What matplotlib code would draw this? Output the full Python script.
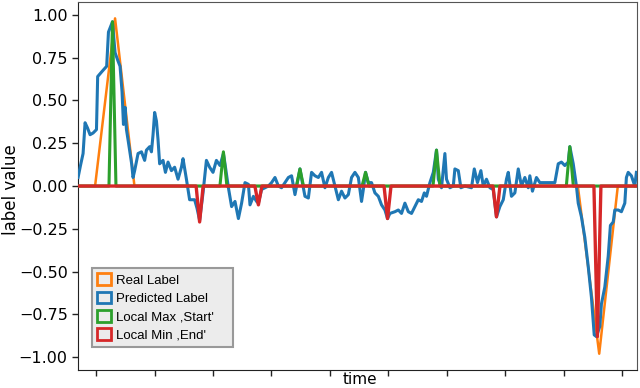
import numpy as np
import matplotlib
matplotlib.use("Agg")
import matplotlib.pyplot as plt
from matplotlib.patches import Patch

# predicted label, time in arbitrary steps
pred_t = [0, 1.2, 2.5, 3.5, 4.7, 6, 7.5, 9.2, 9.8, 12, 14.3, 15.2, 17.2, 18.5, 20, 21, 22, 22.7,
          23.5, 24.2, 25, 26, 26.8, 27.5, 28.3, 30, 31.7, 33.3, 34.2, 35.8, 36.7, 37.5, 38.3, 39.2,
          40, 40.8, 42.5, 43.7, 45, 46.7, 48.3, 50, 51.7, 52.5, 54.2, 55.8, 58.3, 59.5, 60.8, 62.5,
          64.2, 65.8, 67.5, 69.2, 71, 72.7, 73.5, 75.2, 76.8, 78.5, 80.2, 81.8, 83.5, 85.2, 86,
          87.7, 89.3, 90.2, 91.8, 93.5, 95.2, 96.8, 98.5, 100.2, 101.8, 103.5, 105.2, 106.8, 108.5,
          111, 112.2, 113.5, 115.2, 116.8, 118.5, 120.2, 121.8, 123.5, 125.2, 126.8, 128.5, 130.2,
          131.8, 133.5, 135.2, 136.8, 138.5, 140.2, 141.8, 142.7, 143.8, 145.2, 146.8, 148.5,
          150.2, 151.8, 153.5, 154.8, 156, 158.5, 160.2, 161.8, 163.5, 165.2, 166.8, 168.5, 170.2,
          171.8, 173.2, 174.3, 176, 177.7, 179.3, 180.2, 181.8, 183.5, 184.3, 186, 187.7, 188.5,
          190.2, 191.5, 193.5, 196.8, 198.2, 199.8, 201.5, 202.7, 204.3, 206, 207.7, 209.3, 211,
          212.7, 214.3, 215.2, 216.8, 218.5, 220.2, 221.8, 223.5, 225.2, 226, 227.3, 229.3, 231,
          238.5, 240.2, 241.8, 243.5, 245.2, 246, 247.7, 249.3, 250.2, 251.8, 253.5, 255.2, 256.8,
          258.2, 259.3, 261, 261.8, 263.5, 265.2, 266.3, 267.7, 268.5, 270.2, 271.8, 273.5, 274.3,
          275.2, 276.8, 278.5, 279.3]
pred_v = [0.05, 0.12, 0.19, 0.37, 0.34, 0.30, 0.31, 0.33, 0.64, 0.67, 0.70, 0.90, 0.96, 0.78, 0.73,
          0.70, 0.55, 0.36, 0.46, 0.33, 0.27, 0.19, 0.13, 0.05, 0.09, 0.19, 0.20, 0.15, 0.21, 0.23,
          0.20, 0.30, 0.43, 0.38, 0.27, 0.13, 0.15, 0.08, 0.14, 0.09, 0.11, 0.04, 0.11, 0.16, 0.04,
          -0.08, -0.08, -0.13, -0.20, -0.04, 0.15, 0.11, 0.08, 0.15, 0.12, 0.19, 0.13, -0.01, -0.12,
          -0.09, -0.19, -0.10, 0.02, 0.01, -0.11, -0.06, -0.09, -0.10, -0.02, -0.01, 0.0, 0.02, 0.05,
          0.0, -0.01, 0.02, 0.05, 0.06, -0.05, 0.10, 0.02, -0.06, -0.07, 0.08, 0.06, 0.05, 0.08,
          -0.01, 0.05, 0.08, 0.0, -0.08, -0.03, -0.07, -0.05, 0.05, 0.08, 0.05, -0.09, -0.02, 0.08,
          0.02, 0.02, -0.04, -0.06, -0.11, -0.14, -0.19, -0.16, -0.15, -0.14, -0.16, -0.10, -0.15,
          -0.16, -0.12, -0.08, -0.09, -0.04, -0.06, 0.02, 0.08, 0.21, 0.04, -0.01, 0.19, 0.04, -0.01,
          0.0, 0.10, 0.09, -0.01, 0.0, -0.01, 0.10, 0.02, 0.09, 0.0, 0.04, -0.01, -0.02, -0.18,
          -0.12, -0.08, 0.04, 0.08, -0.06, -0.04, 0.10, 0.0, 0.05, -0.01, 0.06, -0.03, 0.05, 0.02,
          0.02, 0.13, 0.14, 0.12, 0.14, 0.23, 0.13, 0.0, -0.10, -0.18, -0.30, -0.47, -0.65, -0.87,
          -0.88, -0.82, -0.69, -0.59, -0.41, -0.23, -0.21, -0.14, -0.14, -0.15, -0.10, 0.05, 0.08,
          0.06, 0.0, 0.08]

# real label: triangles around the two big moves
real_t = [0, 8.5, 18.5, 28.2, 250, 260.7, 270, 279.5]
real_v = [0, 0, 0.98, 0, 0, -0.98, 0, 0]

# local max (start) and local min (end) markers
max_t = [17.2, 72.7, 111, 143.8, 179.3, 246]
max_v = [0.96, 0.20, 0.10, 0.08, 0.21, 0.23]
min_t = [60.8, 90.2, 154.8, 209.3, 259.8]
min_v = [-0.21, -0.11, -0.19, -0.18, -0.88]

t_end = 279.5
half = 1.75


def spikes(ts, vs):
    xs, ys = [0], [0]
    for t, v in zip(ts, vs):
        xs += [t - half, t, t + half]
        ys += [0, v, 0]
    xs.append(t_end)
    ys.append(0)
    return xs, ys


c_real = '#ff7f0e'
c_pred = '#1f77b4'
c_max = '#2ca02c'
c_min = '#d62728'

fig = plt.figure(figsize=(6.4, 3.88), dpi=100)
ax = fig.add_axes([0.122, 0.046, 0.873, 0.949])

ax.plot(real_t, real_v, color=c_real, lw=1.8, zorder=2)
ax.plot(pred_t, pred_v, color=c_pred, lw=2.2, zorder=3)
gx, gy = spikes(max_t, max_v)
ax.plot(gx, gy, color=c_max, lw=2.2, zorder=4)
rx, ry = spikes(min_t, min_v)
ax.plot(rx, ry, color=c_min, lw=2.4, zorder=5)

ax.set_xlim(0, t_end)
ax.set_ylim(-1.076, 1.076)
ax.set_yticks([-1.0, -0.75, -0.5, -0.25, 0.0, 0.25, 0.5, 0.75, 1.0])
ax.set_yticklabels(['\u22121.00', '\u22120.75', '\u22120.50', '\u22120.25', '0.00',
                    '0.25', '0.50', '0.75', '1.00'], fontsize=11.5)
ax.set_xticks([9 + 29.25 * k for k in range(10)])
ax.set_xticklabels([])
ax.tick_params(axis='both', length=4, width=1, color='#222222')

for s in ['top', 'right']:
    ax.spines[s].set_color('#555555')
for s in ['left', 'bottom']:
    ax.spines[s].set_color('#222222')

ax.set_ylabel('label value', fontsize=12)
ax.yaxis.set_label_coords(-0.104, 0.49)
ax.set_xlabel('time', fontsize=11)
ax.xaxis.set_label_coords(0.505, -0.006)

handles = [Patch(facecolor='#ececec', edgecolor=c, lw=2) for c in [c_real, c_pred, c_max, c_min]]
leg = ax.legend(handles, ['Real Label', 'Predicted Label', "Local Max ,Start'", "Local Min ,End'"],
                loc='lower left', bbox_to_anchor=(0.025, 0.0625, 0.252, 0.2), mode='expand',
                borderaxespad=0,
                fancybox=False, framealpha=1, facecolor='#ececec', edgecolor='#999999',
                prop={'family': 'Liberation Sans', 'size': 9.5},
                handlelength=1.0, handleheight=1.0, handletextpad=0.45, labelspacing=0.38,
                borderpad=0.4)
leg.get_frame().set_linewidth(1.5)

fig.savefig('out.png', dpi=100)
